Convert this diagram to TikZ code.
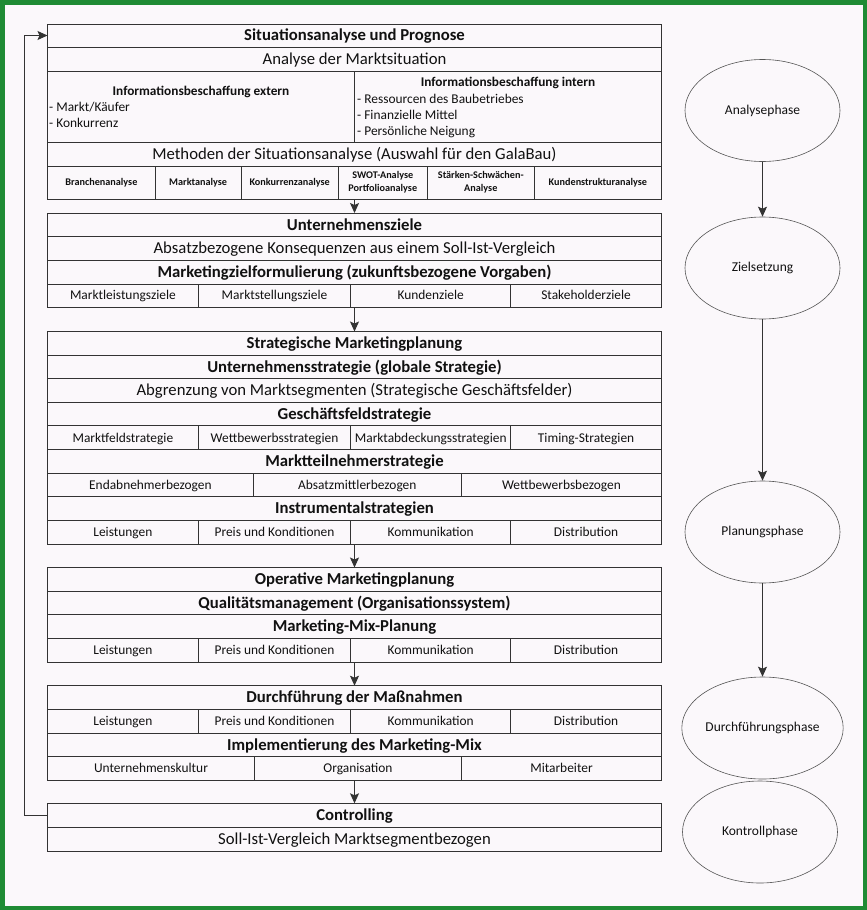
\documentclass[tikz,border=0pt]{standalone}
\usepackage{fontspec}
\setmainfont{Carlito}
\usetikzlibrary{arrows.meta,shapes.geometric}
\definecolor{bgc}{HTML}{FBF8FB}
\definecolor{framec}{HTML}{1F8B34}
\definecolor{linec}{HTML}{333333}
\definecolor{ellc}{HTML}{555555}
\definecolor{txt}{HTML}{111111}
\tikzset{
  cellbox/.style={draw=linec, line width=0.9pt, inner sep=0pt, outer sep=0pt, anchor=north west, text=txt, align=center},
  hb/.style={text height=10.5pt, text depth=0pt, font=\fontsize{16.7}{18}\selectfont\bfseries},
  bigtxt/.style={text height=10.5pt, text depth=0pt, font=\fontsize{16.7}{18}\selectfont},
  smtxt/.style={text height=8.6pt, text depth=0pt, font=\fontsize{13.4}{15}\selectfont},
  smb/.style={font=\fontsize{13.3}{15}\selectfont\bfseries},
  tinyb/.style={font=\fontsize{10.2}{13}\selectfont\bfseries},
  lbl/.style={inner sep=0pt, text=txt},
  phase/.style={ellipse, draw=ellc, line width=0.6pt, minimum width=155pt, minimum height=102pt, inner sep=0pt, font=\fontsize{13.5}{15}\selectfont, text=txt},
  arr/.style={draw=linec, line width=1pt, -{Stealth[length=10pt,width=9pt,inset=2pt]}},
}
\newcommand{\mkcell}[7]{\node[cellbox,#6,minimum width={(#4-#2)*1pt},minimum height={(#5-#3)*1pt}] (#1) at (#2,#3) {#7};}
\begin{document}
\begin{tikzpicture}[x=1pt,y=-1pt]
\useasboundingbox (0,0) rectangle (867,910);
\fill[bgc] (0,0) rectangle (867,910);
\draw[framec, line width=4.5pt] (2.25,2.25) rectangle (864.75,907.75);

% Block 1
\mkcell{s1}{47.5}{24}{661.5}{47}{hb}{Situationsanalyse und Prognose}
\mkcell{s2}{47.5}{47}{661.5}{71}{bigtxt}{Analyse der Marktsituation}
\mkcell{s3a}{47.5}{71}{354.5}{142}{}{}
\mkcell{s3b}{354.5}{71}{661.5}{142}{}{}
\node[lbl,smb,anchor=base] (ie) at (201,95) {Informationsbeschaffung extern};
\node[lbl,smtxt,anchor=base west] (ie1) at (49,111) {- Markt/Käufer};
\node[lbl,smtxt,anchor=base west] (ie2) at (49,127) {- Konkurrenz};
\node[lbl,smb,anchor=base] (ii) at (508,86) {Informationsbeschaffung intern};
\node[lbl,smtxt,anchor=base west] (ii1) at (357,103) {- Ressourcen des Baubetriebes};
\node[lbl,smtxt,anchor=base west] (ii2) at (357,119) {- Finanzielle Mittel};
\node[lbl,smtxt,anchor=base west] (ii3) at (357,135) {- Persönliche Neigung};
\mkcell{s4}{47.5}{142}{661.5}{166}{bigtxt}{Methoden der Situationsanalyse (Auswahl für den GalaBau)}
\mkcell{s5a}{47.5}{166}{155.3}{199}{tinyb}{Branchenanalyse}
\mkcell{s5b}{155.3}{166}{241}{199}{tinyb}{Marktanalyse}
\mkcell{s5c}{241}{166}{338.3}{199}{tinyb}{Konkurrenzanalyse}
\mkcell{s5d}{338.3}{166}{427.3}{199}{tinyb}{SWOT-Analyse\\Portfolioanalyse}
\mkcell{s5e}{427.3}{166}{534.3}{199}{tinyb}{Stärken-Schwächen-\\Analyse}
\mkcell{s5f}{534.3}{166}{661.5}{199}{tinyb}{Kundenstrukturanalyse}

% Block 2
\mkcell{z1}{47.5}{213}{661.5}{236.5}{hb}{Unternehmensziele}
\mkcell{z2}{47.5}{236.5}{661.5}{260.5}{bigtxt}{Absatzbezogene Konsequenzen aus einem Soll-Ist-Vergleich}
\mkcell{z3}{47.5}{260.5}{661.5}{284}{hb}{Marketingzielformulierung (zukunftsbezogene Vorgaben)}
\mkcell{z4a}{47.5}{284}{198.3}{307}{smtxt}{Marktleistungsziele}
\mkcell{z4b}{198.3}{284}{350.7}{307}{smtxt}{Marktstellungsziele}
\mkcell{z4c}{350.7}{284}{510.7}{307}{smtxt}{Kundenziele}
\mkcell{z4d}{510.7}{284}{661.5}{307}{smtxt}{Stakeholderziele}

% Block 3
\mkcell{p1}{47.5}{331.5}{661.5}{355.3}{hb}{Strategische Marketingplanung}
\mkcell{p2}{47.5}{355.3}{661.5}{378.7}{hb}{Unternehmensstrategie (globale Strategie)}
\mkcell{p3}{47.5}{378.7}{661.5}{402.3}{bigtxt}{Abgrenzung von Marktsegmenten (Strategische Geschäftsfelder)}
\mkcell{p4}{47.5}{402.3}{661.5}{425.7}{hb}{Geschäftsfeldstrategie}
\mkcell{p5a}{47.5}{425.7}{198.3}{449.7}{smtxt}{Marktfeldstrategie}
\mkcell{p5b}{198.3}{425.7}{350.7}{449.7}{smtxt}{Wettbewerbsstrategien}
\mkcell{p5c}{350.7}{425.7}{510.7}{449.7}{smtxt}{Marktabdeckungsstrategien}
\mkcell{p5d}{510.7}{425.7}{661.5}{449.7}{smtxt}{Timing-Strategien}
\mkcell{p6}{47.5}{449.7}{661.5}{473.3}{hb}{Marktteilnehmerstrategie}
\mkcell{p7a}{47.5}{473.3}{253.3}{496.7}{smtxt}{Endabnehmerbezogen}
\mkcell{p7b}{253.3}{473.3}{461.3}{496.7}{smtxt}{Absatzmittlerbezogen}
\mkcell{p7c}{461.3}{473.3}{661.5}{496.7}{smtxt}{Wettbewerbsbezogen}
\mkcell{p8}{47.5}{496.7}{661.5}{520.3}{hb}{Instrumentalstrategien}
\mkcell{p9a}{47.5}{520.3}{198.3}{544}{smtxt}{Leistungen}
\mkcell{p9b}{198.3}{520.3}{350.7}{544}{smtxt}{Preis und Konditionen}
\mkcell{p9c}{350.7}{520.3}{510.7}{544}{smtxt}{Kommunikation}
\mkcell{p9d}{510.7}{520.3}{661.5}{544}{smtxt}{Distribution}

% Block 4
\mkcell{o1}{47.5}{567.5}{661.5}{591.5}{hb}{Operative Marketingplanung}
\mkcell{o2}{47.5}{591.5}{661.5}{614.5}{hb}{Qualitätsmanagement (Organisationssystem)}
\mkcell{o3}{47.5}{614.5}{661.5}{638.3}{hb}{Marketing-Mix-Planung}
\mkcell{o4a}{47.5}{638.3}{198.3}{662.3}{smtxt}{Leistungen}
\mkcell{o4b}{198.3}{638.3}{350.7}{662.3}{smtxt}{Preis und Konditionen}
\mkcell{o4c}{350.7}{638.3}{510.7}{662.3}{smtxt}{Kommunikation}
\mkcell{o4d}{510.7}{638.3}{661.5}{662.3}{smtxt}{Distribution}

% Block 5
\mkcell{d1}{47.5}{685.7}{661.5}{709.3}{hb}{Durchführung der Maßnahmen}
\mkcell{d2a}{47.5}{709.3}{198.3}{733.3}{smtxt}{Leistungen}
\mkcell{d2b}{198.3}{709.3}{350.7}{733.3}{smtxt}{Preis und Konditionen}
\mkcell{d2c}{350.7}{709.3}{510.7}{733.3}{smtxt}{Kommunikation}
\mkcell{d2d}{510.7}{709.3}{661.5}{733.3}{smtxt}{Distribution}
\mkcell{d3}{47.5}{733.3}{661.5}{756.7}{hb}{Implementierung des Marketing-Mix}
\mkcell{d4a}{47.5}{756.7}{254.5}{780.3}{smtxt}{Unternehmenskultur}
\mkcell{d4b}{254.5}{756.7}{461.5}{780.3}{smtxt}{Organisation}
\mkcell{d4c}{461.5}{756.7}{661.5}{780.3}{smtxt}{Mitarbeiter}

% Block 6
\mkcell{c1}{47.5}{803.3}{661.5}{827.3}{hb}{Controlling}
\mkcell{c2}{47.5}{827.3}{661.5}{851.3}{bigtxt}{Soll-Ist-Vergleich Marktsegmentbezogen}

% arrows between blocks
\draw[arr] (s5d.south -| z1.north) -- (z1.north);
\draw[arr] (z4c.south -| p1.north) -- (p1.north);
\draw[arr] (p9c.south -| o1.north) -- (o1.north);
\draw[arr] (o4c.south -| d1.north) -- (d1.north);
\draw[arr] (d4b.south -| c1.north) -- (c1.north);

% feedback loop
\coordinate (lp) at (24,815.3);
\draw[arr] (c1.west) -- (lp) |- (s1.west);

% phases
\node[phase] (ph1) at (762.5,110.5) {Analysephase};
\node[phase] (ph2) at (762.5,268) {Zielsetzung};
\node[phase] (ph3) at (762.5,532) {Planungsphase};
\node[phase] (ph4) at (762.5,728) {Durchführungsphase};
\node[phase] (ph5) at (760,832) {Kontrollphase};
\draw[arr] (ph1.south) -- (ph2.north);
\draw[arr] (ph2.south) -- (ph3.north);
\draw[arr] (ph3.south) -- (ph4.north);
\end{tikzpicture}
\end{document}
